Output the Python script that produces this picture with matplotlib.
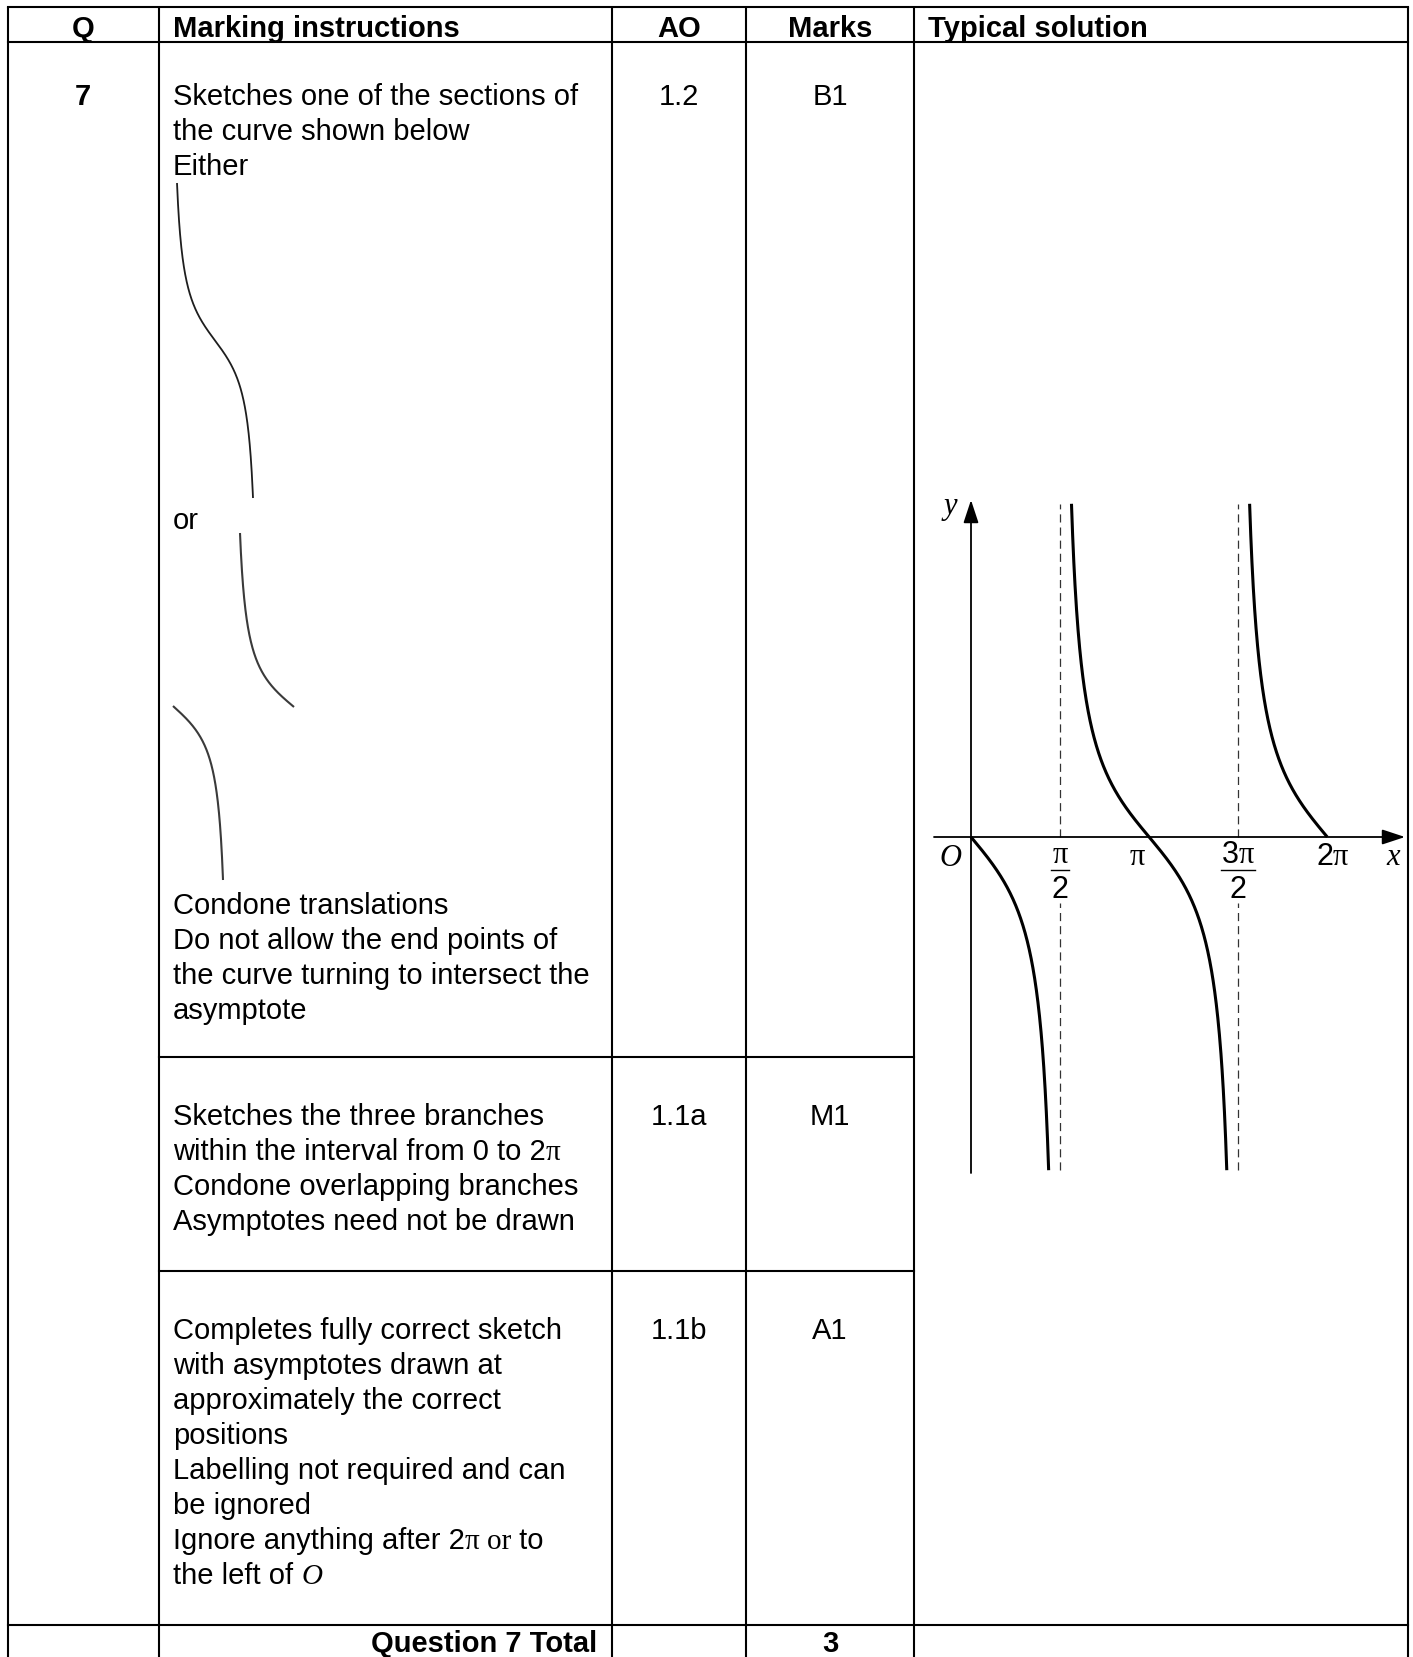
import numpy as np
import matplotlib.pyplot as plt

W, H = 1413, 1657
SANS = 'Liberation Sans'
SERIF = 'Liberation Serif'
FS = 21
FS_TICK = 22

plt.rcParams['font.family'] = [SANS, 'DejaVu Sans']

# ---- table content ----
headers = ['Q', 'Marking instructions', 'AO', 'Marks', 'Typical solution']
question = '7'
ao_codes = ['1.2', '1.1a', '1.1b']
mark_codes = ['B1', 'M1', 'A1']
total_label = 'Question 7 Total'
total_marks = '3'

# a line is either plain text or a list of (text, font) runs
row1_top = ['Sketches one of the sections of', 'the curve shown below', 'Either']
row1_or = ['or']
row1_bottom = ['Condone translations', 'Do not allow the end points of',
               'the curve turning to intersect the', 'asymptote']
row2 = ['Sketches the three branches',
        [('within the interval from 0 to 2', 'sans'), ('π', 'serif')],
        'Condone overlapping branches',
        'Asymptotes need not be drawn']
row3 = ['Completes fully correct sketch', 'with asymptotes drawn at',
        'approximately the correct', 'positions',
        'Labelling not required and can', 'be ignored',
        [('Ignore anything after 2', 'sans'), ('π or', 'serif'), (' to', 'sans')],
        [('the left of ', 'sans'), ('O', 'serif-it')]]

# ---- sketch content: y = -tan x ----
asymptotes = [np.pi / 2, 3 * np.pi / 2]
branches = [(0, np.pi / 2), (np.pi / 2, 3 * np.pi / 2), (3 * np.pi / 2, 2 * np.pi)]
y_limit = 4.9
label_gap = 0.97   # asymptote is broken under the fraction labels
tick_x = [np.pi / 2, np.pi, 3 * np.pi / 2, 2 * np.pi]
tick_num = [[('π', 'serif')], [('π', 'serif')],
            [('3', 'sans'), ('π', 'serif')], [('2', 'sans'), ('π', 'serif')]]
tick_den = ['2', None, '2', None]
tick_shift = [0, -12, 0, 5]

# small example sections in the marking column: (t start, t end, tan limit)
either_piece = (np.pi / 2, 3 * np.pi / 2, 4.1)
or_upper_piece = (3 * np.pi / 2, 2 * np.pi, 5.3)
or_lower_piece = (0, np.pi / 2, 5.3)

FONTS = {'sans': (SANS, 'normal'), 'serif': (SERIF, 'normal'), 'serif-it': (SERIF, 'italic')}

fig = plt.figure(figsize=(W / 100, H / 100), dpi=100)
ax = fig.add_axes([0, 0, 1, 1])
ax.set_xlim(0, W)
ax.set_ylim(H, 0)
ax.axis('off')
ax.set_zorder(10)
renderer = fig.canvas.get_renderer()


def run_width(s, font, size, weight):
    fam, style = FONTS[font]
    t = ax.text(0, 0, '|' + s + '|', family=fam, style=style, fontsize=size, weight=weight)
    w1 = t.get_window_extent(renderer).width
    t.set_text('||')
    w2 = t.get_window_extent(renderer).width
    t.remove()
    return w1 - w2


def draw_line(x, y, line, ha='left', weight='normal', size=FS):
    if isinstance(line, str):
        ax.text(x, y, line, ha=ha, va='baseline', fontsize=size, weight=weight, family=SANS)
        return
    widths = [run_width(s, f, size, weight) for s, f in line]
    total = sum(widths)
    if ha == 'center':
        x -= total / 2
    elif ha == 'right':
        x -= total
    for (s, f), w in zip(line, widths):
        fam, style = FONTS[f]
        ax.text(x, y, s, ha='left', va='baseline', fontsize=size, weight=weight,
                family=fam, style=style)
        x += w


def draw_block(x, y0, lines, step=35):
    for i, line in enumerate(lines):
        draw_line(x, y0 + i * step, line)


# ---- table grid ----
col_x = [8, 159, 612, 746, 914, 1408]
lw_grid = 1.5
for cx in col_x:
    ax.plot([cx, cx], [7, H], color='k', lw=lw_grid, solid_capstyle='butt')
for hy in [7, 42, 1625]:
    ax.plot([col_x[0], col_x[-1]], [hy, hy], color='k', lw=lw_grid, solid_capstyle='projecting')
for hy in [1057, 1271]:
    ax.plot([col_x[1], col_x[4]], [hy, hy], color='k', lw=lw_grid)

# header
hb = 37
draw_line(83, hb, headers[0], ha='center', weight='bold')
draw_line(173, hb, headers[1], weight='bold')
draw_line(679, hb, headers[2], ha='center', weight='bold')
draw_line(830, hb, headers[3], ha='center', weight='bold')
draw_line(928, hb, headers[4], weight='bold')

draw_line(83, 105, question, ha='center', weight='bold')
draw_block(173, 105, row1_top)
draw_block(173, 529, row1_or)
draw_block(173, 914, row1_bottom)
draw_block(173, 1125, row2)
draw_block(173, 1339, row3)
for yb, a, m in zip([105, 1125, 1339], ao_codes, mark_codes):
    draw_line(679, yb, a, ha='center')
    draw_line(830, yb, m, ha='center')
draw_line(597, 1652, total_label, ha='right', weight='bold')
draw_line(830, 1652, total_marks, ha='center', weight='bold')


# ---- small example sections ----
def piece(box, spec, lw, color):
    a, b, lim = spec
    d = np.arctan(1 / lim)
    t0 = a + d if a in asymptotes else a
    t1 = b - d if b in asymptotes else b
    t = np.linspace(t0, t1, 300)
    y = -np.tan(t)
    x0, y0, x1, y1 = box
    sub = fig.add_axes([x0 / W, 1 - y1 / H, (x1 - x0) / W, (y1 - y0) / H])
    sub.plot(t, y, color=color, lw=lw, clip_on=False, solid_capstyle='butt')
    sub.set_xlim(t0, t1)
    sub.set_ylim(y.min(), y.max())
    sub.axis('off')


piece((177, 183, 253, 498), either_piece, 1.3, '#1e1e1e')
piece((240, 533, 294, 707), or_upper_piece, 1.5, '#3a3a3a')
piece((173, 706, 223, 880), or_lower_piece, 1.5, '#3a3a3a')

# ---- typical solution graph ----
ox, oy, sx, sy = 971, 837, 56.7, 68.0
bx0, by0, bx1, by1 = 920, 480, 1413, 1200
sol = fig.add_axes([bx0 / W, 1 - by1 / H, (bx1 - bx0) / W, (by1 - by0) / H])
sol.set_xlim((bx0 - ox) / sx, (bx1 - ox) / sx)
sol.set_ylim((oy - by1) / sy, (oy - by0) / sy)
sol.axis('off')

d = np.arctan(1 / y_limit)
for a, b in branches:
    t0 = a + d if a in asymptotes else a
    t1 = b - d if b in asymptotes else b
    t = np.linspace(t0, t1, 400)
    sol.plot(t, -np.tan(t), color='k', lw=2.2, solid_capstyle='butt')
for a in asymptotes:
    sol.plot([a, a], [0, y_limit], color='#333333', lw=0.9, ls=(0, (6.5, 4)))
    sol.plot([a, a], [-y_limit, -label_gap], color='#333333', lw=0.9, ls=(0, (6.5, 4)))

arrow = dict(arrowstyle='-|>,head_length=1.0,head_width=0.33', mutation_scale=14,
             lw=1.3, color='k', shrinkA=0, shrinkB=0)
sol.annotate('', xy=((1405 - ox) / sx, 0), xytext=((934 - ox) / sx, 0), arrowprops=arrow)
sol.annotate('', xy=(0, (oy - 500) / sy), xytext=(0, (oy - 1173) / sy), arrowprops=arrow)


def sol_px(x, y):
    dx, dy = sol.transData.transform((x, y))
    return dx, H - dy


px0, py0 = sol_px(0, 0)
draw_line(px0 - 21, py0 + 29, [('O', 'serif-it')], ha='center', size=FS_TICK)
draw_line(px0 - 21, 514, [('y', 'serif-it')], ha='center', size=FS_TICK)
draw_line(1393, py0 + 28, [('x', 'serif-it')], ha='center', size=FS_TICK)
for tx, num, den, sh in zip(tick_x, tick_num, tick_den, tick_shift):
    px, _ = sol_px(tx, 0)
    px += sh
    if den is None:
        draw_line(px, py0 + 28, num, ha='center', size=FS_TICK)
    else:
        w = sum(run_width(s, f, FS_TICK, 'normal') for s, f in num)
        draw_line(px, py0 + 26, num, ha='center', size=FS_TICK)
        ax.plot([px - w / 2 - 1, px + w / 2 + 1], [py0 + 33, py0 + 33], color='k', lw=1.0)
        draw_line(px, py0 + 61, den, ha='center', size=FS_TICK)

fig.savefig('out.png', dpi=100)
